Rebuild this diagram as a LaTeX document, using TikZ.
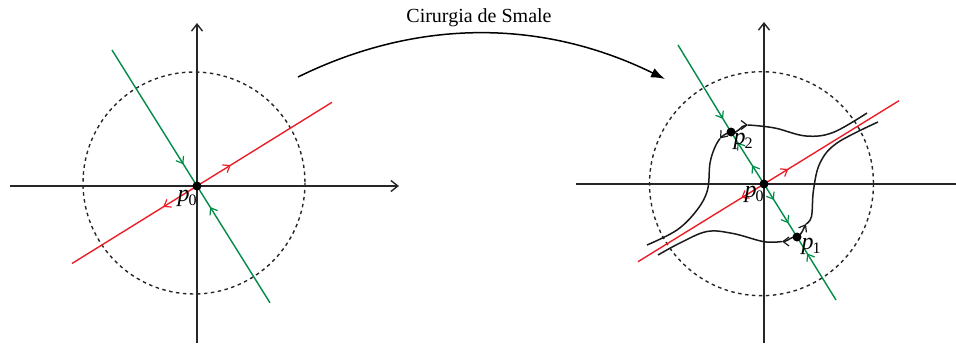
\documentclass[tikz,border=0pt]{standalone}
\usepackage{fontspec}
\setmainfont{Liberation Serif}
\usetikzlibrary{arrows.meta,decorations.markings}
\definecolor{grn}{RGB}{0,140,70}
\definecolor{rd}{RGB}{235,30,40}
\newcommand{\plab}[1]{\fontsize{24}{24}\selectfont\textit{p}\kern-1pt\raisebox{-0.4ex}{\fontsize{16}{16}\selectfont #1}}
\tikzset{
  bb/.tip={Straight Barb[length=6pt,width=9pt,line width=1.2pt]},
  axis/.style={line width=1.5pt,draw=black!85},
  axarrow/.style={axis,-{Straight Barb[length=7pt,width=11pt,line width=1.4pt]}},
  gline/.style={draw=grn,line width=1.4pt},
  rline/.style={draw=rd,line width=1.4pt},
  circ/.style={draw=black!85,line width=1.4pt,dash pattern=on 3.5pt off 3.5pt},
  curve/.style={draw=black!90,line width=1.5pt},
  dot/.style={circle,fill=black,inner sep=0pt,minimum size=9pt},
  lab/.style={inner sep=0pt},
  mk/.style 2 args={postaction={decorate},decoration={markings,mark=at position #1 with {\arrow{#2}}}},
}
\begin{document}
\begin{tikzpicture}[x=1pt,y=-1pt]
\useasboundingbox (0,0) rectangle (956,343);
% ---------- left picture ----------
\coordinate (Lc) at (194,183);
\draw[circ] (Lc) circle (111);
\coordinate (LxA) at (10,186);
\coordinate (LxB) at (399,186);
\coordinate (LyA) at (197,343);
\coordinate (LyB) at (197,23);
\draw[axarrow] (LxA) -- (LxB);
\draw[axarrow] (LyA) -- (LyB);
\coordinate (O) at (197,186);
\coordinate (G1) at (112,50);
\coordinate (G2) at (270,302.8);
\coordinate (R1) at (332,102.3);
\coordinate (R2) at (72,263.5);
\draw[gline,mk={0.84}{bb}] (G1) -- (O);
\draw[gline,mk={0.82}{bb}] (G2) -- (O);
\draw[rline,mk={0.25}{bb}] (O) -- (R1);
\draw[rline,mk={0.27}{bb}] (O) -- (R2);
\node[dot] (p0L) at (O) {};
\node[lab] (l0L) at (187,198) {\plab{0}};
% ---------- arrow ----------
\coordinate (As) at (298,77);
\coordinate (Ae) at (665,79);
\draw[line width=1.5pt,-{Latex[length=14pt,width=10pt]}] (As) .. controls (420,17) and (545,20) .. (Ae);
\node[font=\fontsize{20}{20}\selectfont] (title) at (479,18) {Cirurgia de Smale};
% ---------- right picture ----------
\coordinate (Rc) at (761.5,183.7);
\draw[circ] (Rc) circle (112);
\coordinate (RxA) at (576,184);
\coordinate (RxB) at (956,184);
\coordinate (RyA) at (764,343);
\coordinate (RyB) at (764,22);
\draw[axis] (RxA) -- (RxB);
\draw[axarrow] (RyA) -- (RyB);
\coordinate (O2) at (764,184);
\coordinate (P2) at (731,132);
\coordinate (P1) at (797,237);
\coordinate (G3) at (678,45);
\coordinate (G4) at (836,300);
\coordinate (R3) at (899,100.7);
\coordinate (R4) at (638,261.7);
\draw[gline,mk={0.85}{bb}] (G3) -- (P2);
\draw[gline,postaction={decorate},decoration={markings,mark=at position 0.36 with {\arrow{bb}},mark=at position 0.8 with {\arrow{bb}}}] (O2) -- (P2);
\draw[gline,postaction={decorate},decoration={markings,mark=at position 0.3 with {\arrow{bb}},mark=at position 0.74 with {\arrow{bb}}}] (O2) -- (P1);
\draw[gline,mk={0.74}{bb}] (G4) -- (P1);
\draw[rline,mk={0.18}{bb}] (O2) -- (R3);
\draw[rline,mk={0.18}{bb}] (O2) -- (R4);
% unstable curves
\coordinate (Aa) at (748,125);
\coordinate (Ab) at (720,138.5);
\coordinate (Ac) at (782,241.5);
\coordinate (Ad) at (806,224);
\draw[curve,-{bb}] (P2) to[out=-25,in=180] (Aa);
\draw[curve] plot[smooth,tension=0.6] coordinates {(Aa) (760,126) (777,128.5) (806,136) (833,132.5) (867,113)};
\draw[curve,-{bb}] (P2) to[out=200,in=50] (Ab);
\draw[curve] plot[smooth,tension=0.6] coordinates {(Ab) (715,147) (710,163) (707.5,190) (697,210) (677,230) (647,245)};
\draw[curve,-{bb}] (P1) to[out=170,in=0] (Ac);
\draw[curve] plot[smooth,tension=0.6] coordinates {(Ac) (764,241.7) (733,233.5) (707,231.5) (680,243) (658,255)};
\draw[curve,-{bb}] (P1) to[out=30,in=240] (Ad);
\draw[curve] plot[smooth,tension=0.6] coordinates {(Ad) (811.5,216.5) (813.5,190) (820,163) (837,143) (878,122)};
\node[dot] (p0R) at (O2) {};
\node[dot] (p2R) at (P2) {};
\node[dot] (p1R) at (P1) {};
\node[lab] (l0R) at (754,194) {\plab{0}};
\node[lab] (l2R) at (743,141) {\plab{2}};
\node[lab] (l1R) at (811,246) {\plab{1}};
\end{tikzpicture}
\end{document}
